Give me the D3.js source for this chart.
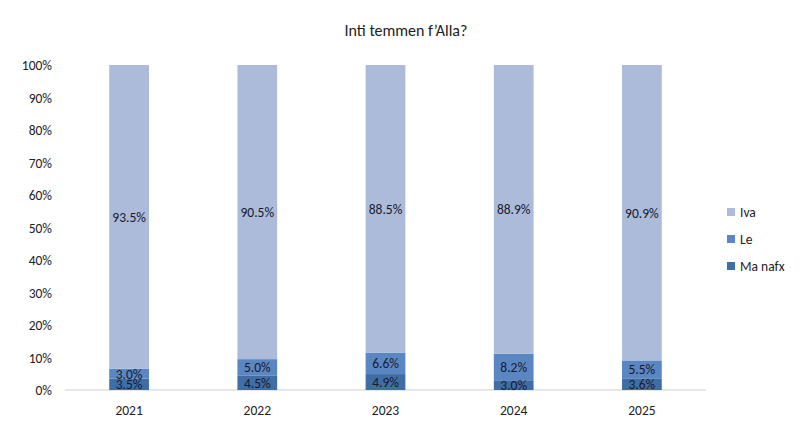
<!DOCTYPE html><html><head><meta charset="utf-8"><script src="https://d3js.org/d3.v7.min.js"></script>
<style>body{margin:0;background:#fff}text{font-family:Calibri,Carlito,"Liberation Sans",Arial,sans-serif}</style></head><body><svg id="c" width="812" height="431"></svg>
<script>
const years=["2021","2022","2023","2024","2025"];
const maNafx=[3.5,4.5,4.9,3.0,3.6];
const le=[3.0,5.0,6.6,8.2,5.5];
const iva=[93.5,90.5,88.5,88.9,90.9];
const yTicks=[0,10,20,30,40,50,60,70,80,90,100];
const seriesNames=["Iva","Le","Ma nafx"];
const colors={"Ma nafx":"#3f6ea5","Le":"#5a86c2","Iva":"#abbbd9"};
const svg=d3.select("#c");
const x=d3.scaleBand().domain(years).range([65,706]).paddingInner(0.69).paddingOuter(0.345);
const y=d3.scaleLinear().domain([0,100]).range([390,65]);
svg.append("text").attr("x",406).attr("y",36).attr("text-anchor","middle").attr("font-size",16).attr("fill","#222").text("Inti temmen f’Alla?");
svg.append("line").attr("x1",65).attr("x2",706).attr("y1",390).attr("y2",390).attr("stroke","#d0d0d0");
svg.selectAll(".yt").data(yTicks).enter().append("text").attr("x",52).attr("y",d=>y(d)+5).attr("text-anchor","end").attr("font-size",13.5).attr("fill","#222").text(d=>d+"%");
svg.selectAll(".xt").data(years).enter().append("text").attr("x",d=>x(d)+x.bandwidth()/2).attr("y",415).attr("text-anchor","middle").attr("font-size",13.5).attr("fill","#222").text(d=>d);
years.forEach((yr,i)=>{
  const segs=[["Ma nafx",maNafx[i]],["Le",le[i]],["Iva",iva[i]]];
  let base=0;
  segs.forEach(([n,v])=>{
    const top=Math.min(base+v,100);
    svg.append("rect").attr("x",x(yr)).attr("width",x.bandwidth()).attr("y",y(top)).attr("height",y(base)-y(top)).attr("fill",colors[n]);
    svg.append("text").attr("x",x(yr)+x.bandwidth()/2).attr("y",y((base+top)/2)+5).attr("text-anchor","middle").attr("font-size",13.5).attr("fill","#1a1a2e").text(v.toFixed(1)+"%");
    base=top;
  });
});
seriesNames.forEach((n,i)=>{
  const ly=213+i*27;
  svg.append("rect").attr("x",727).attr("y",ly-5).attr("width",8).attr("height",8).attr("fill",colors[n]);
  svg.append("text").attr("x",740).attr("y",ly+4).attr("font-size",13.5).attr("fill","#222").text(n);
});
</script></body></html>
